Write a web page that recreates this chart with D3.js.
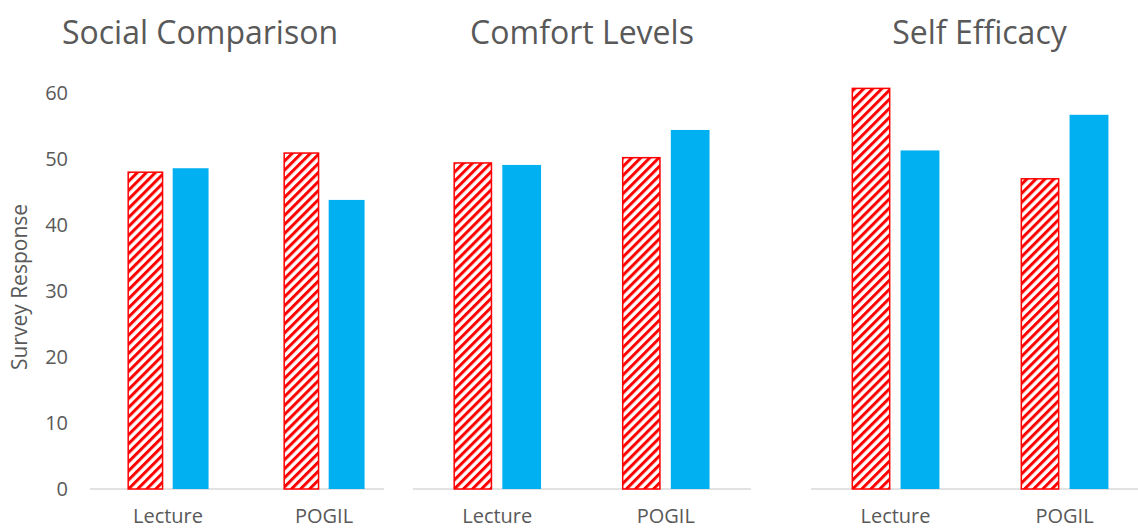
<!DOCTYPE html>
<html><head><meta charset="utf-8">
<script src="https://cdn.jsdelivr.net/npm/d3@7"></script>
<style>body{margin:0;background:#fff;} text{font-family:"Open Sans",sans-serif;}</style>
</head><body>
<svg id="c" width="1138" height="529"></svg>
<script>
const panels = ["Social Comparison", "Comfort Levels", "Self Efficacy"];
const categories = ["Lecture", "POGIL"];
const hatchedValues = [[48.0, 50.9], [49.4, 50.2], [60.7, 47.0]];
const solidValues = [[48.6, 43.8], [49.1, 54.4], [51.3, 56.7]];
const yTicks = [0, 10, 20, 30, 40, 50, 60];
const yLabel = "Survey Response";

// layout
const bandRanges = [[90, 402], [413, 750], [811, 1149]];
const axisRanges = [[90, 384], [413, 751], [811, 1138]];
const titleShift = [-37, 0, 5];
const svg = d3.select("#c");
const y = d3.scaleLinear().domain([0, 60]).range([489, 93]);

const defs = svg.append("defs");
const pat = defs.append("pattern").attr("id", "hatch").attr("patternUnits", "userSpaceOnUse")
  .attr("width", 6.4).attr("height", 6.4).attr("patternTransform", "rotate(45)");
pat.append("rect").attr("width", 6.4).attr("height", 6.4).attr("fill", "#fff");
pat.append("rect").attr("x", 0).attr("width", 3.0).attr("height", 6.4).attr("fill", "#FF0000");

// y axis labels
svg.append("g").selectAll("text").data(yTicks).join("text")
  .attr("x", 68).attr("y", d => y(d)).attr("dy", "0.35em")
  .attr("text-anchor", "end").attr("font-size", 20).attr("fill", "#595959").text(d => d);
svg.append("text").attr("transform", `translate(27,${y(30) - 4}) rotate(-90)`)
  .attr("text-anchor", "middle").attr("font-size", 21).attr("fill", "#595959").text(yLabel);

panels.forEach((title, i) => {
  const x = d3.scaleBand().domain(categories).range(bandRanges[i]).padding(0);
  const step = x.bandwidth();
  const bw = step * 0.23, gap = step * 0.06;
  const g = svg.append("g");
  g.append("line").attr("x1", axisRanges[i][0]).attr("x2", axisRanges[i][1])
    .attr("y1", y(0)).attr("y2", y(0)).attr("stroke", "#d9d9d9").attr("stroke-width", 1.5);
  const center = c => x(c) + step / 2;
  g.selectAll("rect.h").data(categories).join("rect").attr("class", "h")
    .attr("x", c => center(c) - gap / 2 - bw + 0.75).attr("width", bw - 1.5)
    .attr("y", (c, j) => y(hatchedValues[i][j])).attr("height", (c, j) => y(0) - y(hatchedValues[i][j]))
    .attr("fill", "url(#hatch)").attr("stroke", "#FF0000").attr("stroke-width", 1.5);
  g.selectAll("rect.s").data(categories).join("rect").attr("class", "s")
    .attr("x", c => center(c) + gap / 2).attr("width", bw)
    .attr("y", (c, j) => y(solidValues[i][j])).attr("height", (c, j) => y(0) - y(solidValues[i][j]))
    .attr("fill", "#00B0F0");
  g.selectAll("text.cat").data(categories).join("text").attr("class", "cat")
    .attr("x", c => center(c)).attr("y", 523).attr("text-anchor", "middle")
    .attr("font-size", 20).attr("fill", "#595959").text(c => c);
  g.append("text").attr("x", (axisRanges[i][0] + axisRanges[i][1]) / 2 + titleShift[i])
    .attr("y", 44).attr("text-anchor", "middle").attr("font-size", 32).attr("fill", "#595959").text(title);
});
</script>
</body></html>
